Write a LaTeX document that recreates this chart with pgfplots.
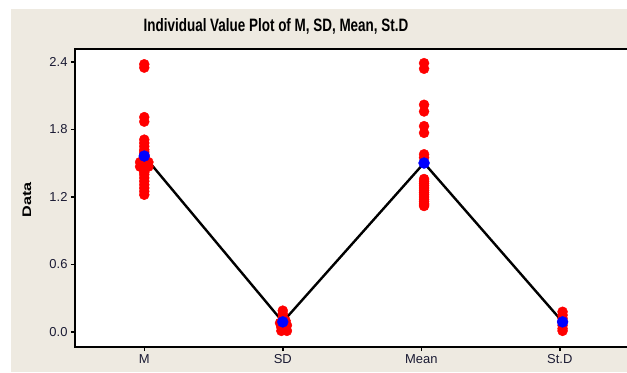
\documentclass[border=0pt]{standalone}
\usepackage{fontspec}
\setmainfont{Liberation Sans}
\usepackage{graphicx}
\usepackage{pgfplots}
\pgfplotsset{compat=1.18}
\definecolor{bg}{HTML}{EEEAE1}
\definecolor{tick}{HTML}{1A1A33}
\begin{document}
\begin{tikzpicture}[x=1bp,y=1bp]
\path[use as bounding box] (-75,-25) rectangle (552,347);
\fill[white] (-75,-25) rectangle (552,347);
\fill[bg] (-64,-25) rectangle (560,338);
\begin{axis}[at={(0,0)}, anchor=south west, scale only axis,
  width=560bp, height=298bp,
  xmin=-0.5, xmax=3.543, ymin=-0.1333, ymax=2.5156,
  axis background/.style={fill=white},
  axis line style={line width=2bp},
  xtick={0,1,2,3}, xticklabels={M,SD,Mean,St.D},
  ytick={0,0.6,1.2,1.8,2.4},
  yticklabel style={/pgf/number format/.cd, fixed, fixed zerofill, precision=1},
  tick align=outside, tick pos=left, major tick length=4bp,
  every tick/.style={black, line width=1.5bp},
  ticklabel style={font=\fontsize{13}{13}\selectfont, text=tick},
  /pgf/number format/assume math mode=true,
  clip=false,
]
\addplot[only marks, mark=*, mark size=5bp, red, mark options={draw=red, fill=red}] coordinates {
(0,2.38)(0,2.35)(0,1.91)(0,1.87)
(0,1.71)(0,1.68)(0,1.65)(0,1.62)(0,1.60)(0,1.58)(0,1.56)(0,1.54)
(-0.03,1.51)(0.03,1.51)(-0.03,1.47)(0.03,1.47)
(0,1.52)(0,1.50)(0,1.48)(0,1.46)(0,1.44)(0,1.42)(0,1.40)(0,1.37)(0,1.34)(0,1.31)(0,1.28)(0,1.25)(0,1.22)
};
\addplot[only marks, mark=*, mark size=5bp, red, mark options={draw=red, fill=red}] coordinates {
(1,0.19)(1,0.16)(1,0.13)(1.02,0.10)(0.98,0.08)(1.03,0.06)(0.99,0.04)(1.02,0.02)(1.03,0.01)(0.99,0.01)
};
\addplot[only marks, mark=*, mark size=5bp, red, mark options={draw=red, fill=red}] coordinates {
(2.02,2.39)(2.02,2.34)(2.02,2.02)(2.02,1.96)(2.02,1.83)(2.02,1.77)(2.02,1.58)(2.02,1.55)
(2.02,1.36)(2.02,1.34)(2.02,1.32)(2.02,1.30)(2.02,1.28)(2.02,1.26)(2.02,1.24)(2.02,1.22)(2.02,1.20)(2.02,1.18)(2.02,1.16)(2.02,1.14)(2.02,1.13)(2.02,1.12)
};
\addplot[only marks, mark=*, mark size=5bp, red, mark options={draw=red, fill=red}] coordinates {
(3.02,0.18)(3.02,0.15)(3.02,0.12)(3.02,0.09)(3.02,0.06)(3.02,0.03)(3.02,0.01)
};
\addplot[only marks, mark=*, mark size=5.5bp, blue, mark options={draw=blue, fill=blue}] coordinates {
(0,1.564)(1,0.09)(2.02,1.502)(3.02,0.09)
};
\addplot[black, line width=2.4bp, no marks] coordinates {
(0,1.564)(1,0.09)(2.02,1.502)(3.02,0.09)
};
\end{axis}
\node at (201,321) {\scalebox{0.75}[1]{\bfseries\fontsize{18}{18}\selectfont Individual Value Plot of M, SD, Mean, St.D}};
\node[rotate=90] at (-48,147) {\scalebox{1.3}[1]{\bfseries\fontsize{12.5}{12.5}\selectfont Data}};
\end{tikzpicture}
\end{document}
